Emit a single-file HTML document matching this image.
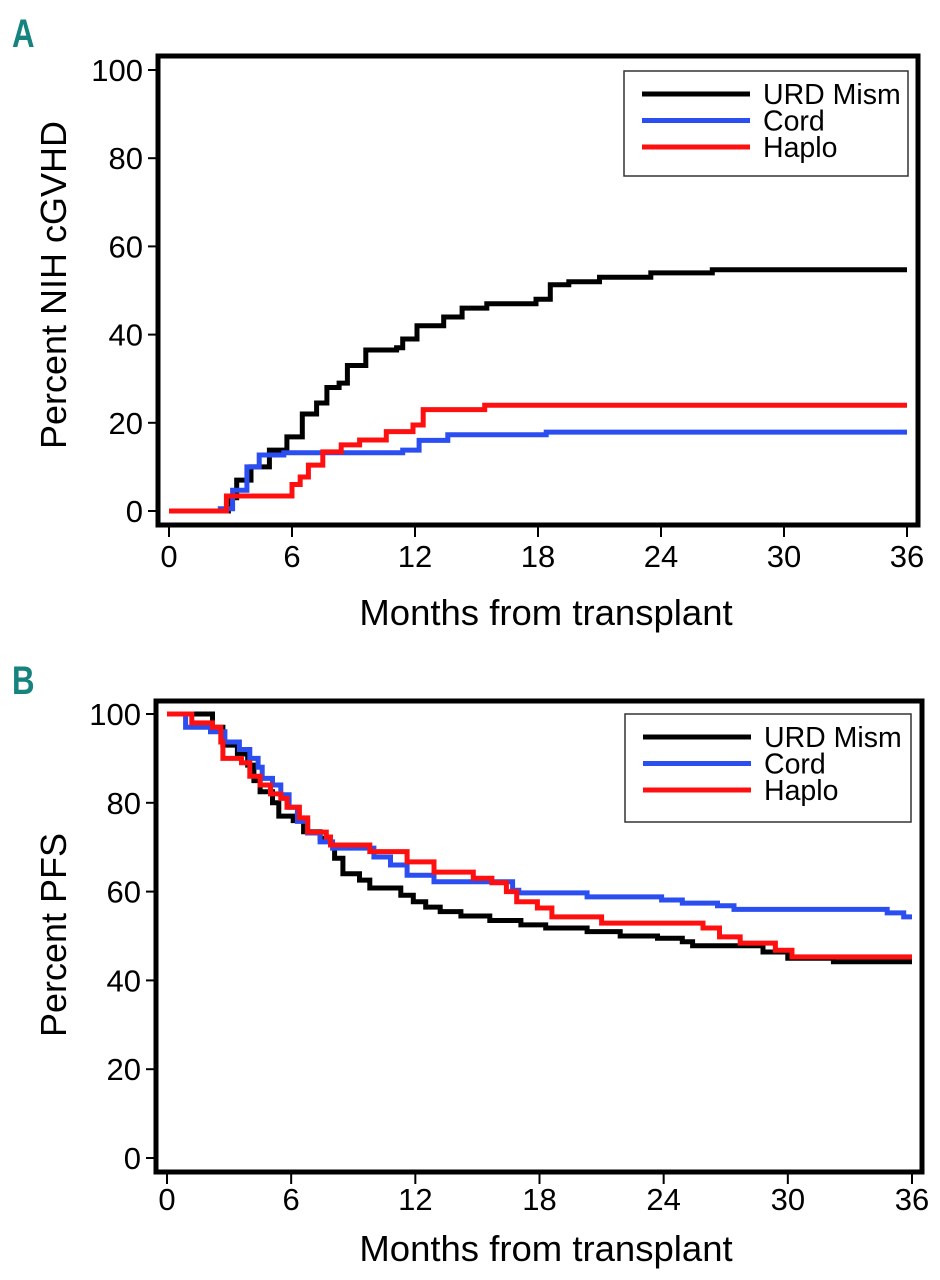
<!DOCTYPE html>
<html><head><meta charset="utf-8"><style>
html,body{margin:0;padding:0;background:#fff;}
svg{display:block;font-family:"Liberation Sans",Arial,sans-serif;}
</style></head><body>
<svg id="fig" width="940" height="1280" viewBox="0 0 940 1280" xmlns="http://www.w3.org/2000/svg"></svg>
<script>
// ---------- Data ----------
const xTicks = [0, 6, 12, 18, 24, 30, 36];
const yTicks = [0, 20, 40, 60, 80, 100];
const seriesNames = ["URD Mism", "Cord", "Haplo"];
const seriesColors = ["#000000", "#2b4ef0", "#ff1010"];

// Panel A: cumulative incidence of NIH cGVHD (step changes: time in months, value in %)
const urdTimesA = [0, 2.9, 3.3, 4.0, 4.9, 5.75, 6.5, 7.2, 7.7, 8.3, 8.7, 9.6, 11.1, 11.4, 12.1, 13.4, 14.3, 15.5, 17.9, 18.6, 19.5, 21, 23.5, 26.5, 36];
const urdValsA  = [0, 3,   7,   10,  13.8, 16.8, 22, 24.5, 28,  29,  33,  36.5, 37,  39,   42,   44,   46,   47,   48,   51.3, 52,  53, 54,   54.7, 54.7];
const cordTimesA = [0, 2.5, 3.1, 3.8, 4.4, 5.6, 11.4, 12.2, 13.6, 18.4, 36];
const cordValsA  = [0, 0.5, 4.7, 10,  12.7, 13.2, 13.8, 16,  17.3, 17.9, 17.9];
const haploTimesA = [0, 2.8, 6.0, 6.4, 6.8, 7.5, 8.4, 9.3, 10.6, 11.9, 12.4, 15.4, 36];
const haploValsA  = [0, 3.4, 6,   7.7, 10.4, 13.4, 15, 16.1, 18,  19.5, 23,   24,   24];

// Panel B: progression-free survival
const urdTimesB = [0, 1.8, 2.2, 2.7, 3.4, 3.9, 4.2, 4.5, 5.1, 5.4, 6.1, 6.6, 7.4, 7.9, 8.1, 8.5, 9.3, 9.8, 11.3, 11.9, 12.5, 13.2, 14.2, 15.6, 17.1, 18.3, 20.3, 21.9, 23.7, 24.9, 25.4, 28.8, 30, 32.2, 36];
const urdValsB  = [100, 100, 97, 93, 91, 88.5, 85, 82.5, 80, 77, 76, 73.5, 72, 70.5, 67.5, 64, 62.6, 60.8, 59.2, 57.7, 56.5, 55.5, 54.5, 53.5, 52.5, 51.8, 51, 50, 49.5, 48.7, 47.8, 46.4, 45, 44.2, 44.2];
const cordTimesB = [0, 0.9, 2.1, 2.8, 3.5, 4.0, 4.4, 4.6, 5.1, 5.5, 5.9, 6.3, 6.8, 7.4, 8.0, 10.0, 10.8, 11.6, 12.9, 16.7, 17.0, 20.3, 23.9, 24.9, 26.6, 27.4, 34.8, 35.6, 36];
const cordValsB  = [100, 97, 96, 93.7, 92, 90, 88, 85.5, 84, 81.8, 79, 75.8, 73.2, 71.2, 69.8, 67.8, 66, 63.7, 62.2, 60.3, 59.7, 58.8, 58.1, 57.4, 56.8, 56, 55.2, 54.3, 54.3];
const haploTimesB = [0, 1.2, 2.2, 2.6, 2.7, 3.6, 4.0, 4.5, 5.0, 5.5, 5.8, 6.4, 6.8, 7.7, 7.9, 9.8, 11.6, 12.9, 14.8, 15.7, 16.4, 16.9, 17.9, 18.6, 21.0, 25.9, 26.7, 27.7, 29.4, 30.2, 36];
const haploValsB  = [100, 98, 97, 93.7, 90, 89, 86, 84, 82, 81, 79, 76.6, 73.4, 72.3, 70.5, 69, 66.7, 64.4, 63, 62, 60, 57.7, 56.3, 54.3, 52.9, 51.8, 49.8, 48.4, 46.8, 45.3, 45.3];

// ---------- Drawing ----------
const NS = "http://www.w3.org/2000/svg";
const svg = document.getElementById("fig");
function mk(tag, attrs, parent) {
  const e = document.createElementNS(NS, tag);
  for (const k in attrs) e.setAttribute(k, attrs[k]);
  (parent || svg).appendChild(e);
  return e;
}
function stepPath(ts, vs, sx, sy) {
  let d = "M" + sx(ts[0]).toFixed(1) + "," + sy(vs[0]).toFixed(1);
  for (let i = 1; i < ts.length; i++) {
    d += " H" + sx(ts[i]).toFixed(1) + " V" + sy(vs[i]).toFixed(1);
  }
  return d;
}

function drawPanel(cfg) {
  const g = mk("g", {});
  
  
  const sx = t => cfg.x0 + (cfg.x36 - cfg.x0) * t / 36;
  const sy = v => cfg.y0 + (cfg.y100 - cfg.y0) * v / 100;

  const L = mk("text", {x: 0, y: 0, "font-size": 40, "font-weight": "bold", fill: "#16837f",
    transform: "translate(12," + cfg.letterY + ") scale(0.78,1)"}, g);
  L.textContent = cfg.letter;
  
  

  cfg.series.forEach((s, i) => {
    const p = mk("path", {d: stepPath(s[0], s[1], sx, sy), fill: "none", stroke: seriesColors[i], "stroke-width": 5, "stroke-linejoin": "miter"}, g);
    
    
  });

  const fr = mk("rect", {x: cfg.bx, y: cfg.by, width: cfg.bw, height: cfg.bh, fill: "none", stroke: "#000", "stroke-width": 5}, g);
  
  

  yTicks.forEach(v => {
    const tk = mk("line", {x1: cfg.bx - 10, x2: cfg.bx, y1: sy(v), y2: sy(v), stroke: "#000", "stroke-width": 2}, g);
    
    
    const tl = mk("text", {x: cfg.bx - 15, y: sy(v) + 11, "font-size": 31, "text-anchor": "end"}, g);
    tl.textContent = v;
    
    
  });
  xTicks.forEach(t => {
    const tk = mk("line", {x1: sx(t), x2: sx(t), y1: cfg.by + cfg.bh, y2: cfg.by + cfg.bh + 12, stroke: "#000", "stroke-width": 2}, g);
    
    
    const tl = mk("text", {x: sx(t), y: cfg.xLabY, "font-size": 31, "text-anchor": "middle"}, g);
    tl.textContent = t;
    
    
  });
  const xt = mk("text", {x: 546, y: cfg.xTitleY, "font-size": 36.5, "text-anchor": "middle"}, g);
  xt.textContent = "Months from transplant";
  
  
  const yt = mk("text", {x: 0, y: 0, "font-size": 36, "text-anchor": "middle",
    transform: "translate(" + cfg.yTitleX + "," + cfg.yTitleY + ") rotate(-90)"}, g);
  yt.textContent = cfg.yTitle;
  
  

  const lg = mk("g", {}, g);
  
  
  mk("rect", {x: cfg.lx, y: cfg.ly, width: cfg.lw, height: cfg.lh, fill: "#fff", stroke: "#333", "stroke-width": 1.5}, lg);
  seriesNames.forEach((n, i) => {
    const yy = cfg.ly + 23 + i * 26.5;
    const e = mk("g", {}, lg);
    
    
    mk("line", {x1: cfg.lx + 18, x2: cfg.lx + 126, y1: yy, y2: yy, stroke: seriesColors[i], "stroke-width": 5}, e);
    const tx = mk("text", {x: cfg.lx + 139, y: yy + 10, "font-size": 28.5}, e);
    tx.textContent = n;
  });
}

drawPanel({name: "panel-a-cgvhd", letter: "A", letterY: 47,
  x0: 169, x36: 907, y0: 511, y100: 70,
  bx: 158, by: 56, bw: 760, bh: 469,
  xLabY: 567, xTitleY: 625, yTitleX: 66, yTitleY: 285, yTitle: "Percent NIH cGVHD",
  lx: 624, ly: 71, lw: 284, lh: 105,
  series: [[urdTimesA, urdValsA], [cordTimesA, cordValsA], [haploTimesA, haploValsA]]});

drawPanel({name: "panel-b-pfs", letter: "B", letterY: 694,
  x0: 167, x36: 912, y0: 1158, y100: 714,
  bx: 156, by: 701, bw: 766, bh: 471,
  xLabY: 1210, xTitleY: 1261, yTitleX: 66, yTitleY: 935, yTitle: "Percent PFS",
  lx: 625, ly: 714, lw: 286, lh: 108,
  series: [[urdTimesB, urdValsB], [cordTimesB, cordValsB], [haploTimesB, haploValsB]]});
</script>
</body></html>
